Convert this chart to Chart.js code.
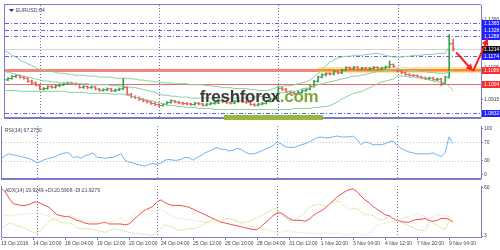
<!DOCTYPE html>
<html><head><meta charset="utf-8">
<script src="https://cdn.jsdelivr.net/npm/chart.js@4.4.1/dist/chart.umd.min.js"></script>
<style>
html,body{margin:0;padding:0;background:#fff}
body{width:500px;height:250px;position:relative;overflow:hidden}
canvas{position:absolute;left:0}
#logo{position:absolute;left:194px;top:87px;width:130px;height:20px;font-family:"Liberation Sans",Arial,sans-serif;font-weight:bold;font-size:17px;line-height:20px;color:#3a3a3a;text-align:center;letter-spacing:-0.3px}
#logo .c{color:#7aa83a}
#logoBar{position:absolute;left:224px;top:115px;width:99px;height:5px;background:#95b83e}
</style></head><body>
<canvas id="cMain" width="500" height="122" style="top:0"></canvas>
<canvas id="cRsi" width="500" height="60" style="top:122px"></canvas>
<canvas id="cAdx" width="500" height="68" style="top:182px"></canvas>
<div id="logoBar"></div>
<div id="logo">freshforex<span class="c">.com</span></div>
<script>
// ---------- data ----------
const xLabels = ['13 Oct 2016','14 Oct 20:00','18 Oct 04:00','19 Oct 12:00','20 Oct 20:00','24 Oct 04:00','25 Oct 12:00','26 Oct 20:00','28 Oct 04:00','31 Oct 12:00','1 Nov 20:00','3 Nov 04:00','4 Nov 12:00','7 Nov 20:00','9 Nov 04:00'];
const xTickBars = [0,8,16,24,32,40,48,56,64,72,80,88,96,104,112];
const weekStartBars = [9,39,69,99];

const open = [1.1024,1.1030,1.1038,1.1050,1.1055,1.1046,1.1040,1.1022,1.1012,1.0998,
1.0975,1.0978,1.0990,1.0986,1.0995,1.1000,1.1006,1.1012,1.1008,1.1004,
1.0985,1.0990,1.0984,1.0988,1.0975,1.0968,1.0971,1.0976,1.0965,1.0970,
1.0976,1.0984,1.0944,1.0930,1.0924,1.0914,1.0905,1.0899,1.0890,1.0882,
1.0878,1.0885,1.0896,1.0905,1.0898,1.0893,1.0889,1.0887,1.0884,1.0891,
1.0887,1.0880,1.0886,1.0891,1.0893,1.0906,1.0900,1.0894,1.0892,1.0901,
1.0906,1.0899,1.0897,1.0884,1.0880,1.0886,1.0891,1.0902,1.0916,1.0926,
1.0980,1.0974,1.0960,1.0954,1.0949,1.0956,1.0966,1.0975,1.0991,1.1021,
1.1046,1.1060,1.1066,1.1065,1.1078,1.1072,1.1088,1.1102,1.1096,1.1104,
1.1092,1.1099,1.1093,1.1098,1.1104,1.1094,1.1100,1.1106,1.1120,1.1090,
1.1082,1.1072,1.1062,1.1057,1.1055,1.1048,1.1042,1.1037,1.1040,1.1031,
1.1034,1.1008,1.1046,1.1245];
const high = [1.1036,1.1044,1.1056,1.1062,1.1060,1.1051,1.1045,1.1028,1.1018,1.1003,
1.0984,1.0995,1.0996,1.1000,1.1006,1.1012,1.1018,1.1017,1.1013,1.1008,
1.0996,1.0994,1.0994,1.0992,1.0980,1.0977,1.0982,1.0980,1.0976,1.0982,
1.1040,1.0990,1.0950,1.0935,1.0929,1.0919,1.0910,1.0904,1.0895,1.0888,
1.0890,1.0901,1.0911,1.0909,1.0903,1.0898,1.0895,1.0892,1.0897,1.0896,
1.0892,1.0892,1.0897,1.0899,1.0912,1.0911,1.0905,1.0900,1.0907,1.0912,
1.0911,1.0945,1.0902,1.0889,1.0892,1.0897,1.0908,1.0922,1.0932,1.0995,
1.0986,1.0979,1.0965,1.0959,1.0962,1.0972,1.0981,1.0997,1.1027,1.1052,
1.1066,1.1072,1.1073,1.1084,1.1083,1.1094,1.1108,1.1107,1.1110,1.1109,
1.1105,1.1104,1.1104,1.1110,1.1109,1.1106,1.1112,1.1142,1.1125,1.1095,
1.1087,1.1077,1.1067,1.1062,1.1060,1.1053,1.1047,1.1046,1.1045,1.1040,
1.1039,1.1052,1.1299,1.1272];
const low = [1.1018,1.1025,1.1034,1.1045,1.1040,1.1034,1.1017,1.1006,1.0994,1.0970,
1.0969,1.0974,1.0980,1.0981,1.0990,1.0996,1.1001,1.1002,1.0999,1.0980,
1.0979,1.0978,1.0979,1.0970,1.0962,1.0963,1.0966,1.0960,1.0960,1.0966,
1.0972,1.0938,1.0924,1.0918,1.0908,1.0899,1.0893,1.0884,1.0878,1.0871,
1.0873,1.0880,1.0891,1.0893,1.0888,1.0883,1.0881,1.0878,1.0879,1.0881,
1.0874,1.0875,1.0881,1.0885,1.0888,1.0895,1.0889,1.0886,1.0887,1.0896,
1.0894,1.0890,1.0878,1.0874,1.0875,1.0881,1.0886,1.0897,1.0911,1.0921,
1.0968,1.0955,1.0948,1.0943,1.0944,1.0951,1.0961,1.0970,1.0986,1.1016,
1.1041,1.1054,1.1058,1.1060,1.1066,1.1067,1.1083,1.1090,1.1091,1.1086,
1.1087,1.1087,1.1088,1.1093,1.1088,1.1089,1.1095,1.1101,1.1104,1.1076,
1.1066,1.1056,1.1051,1.1049,1.1042,1.1036,1.1031,1.1031,1.1025,1.1025,
1.0995,1.1003,1.1040,1.1200];
const close = [1.1030,1.1038,1.1050,1.1055,1.1046,1.1040,1.1022,1.1012,1.1000,1.0975,
1.0978,1.0990,1.0986,1.0995,1.1000,1.1006,1.1012,1.1008,1.1004,1.0985,
1.0990,1.0984,1.0988,1.0975,1.0968,1.0971,1.0976,1.0965,1.0970,1.0976,
1.0984,1.0944,1.0930,1.0924,1.0914,1.0905,1.0899,1.0890,1.0884,1.0878,
1.0885,1.0896,1.0905,1.0898,1.0893,1.0889,1.0887,1.0884,1.0891,1.0887,
1.0880,1.0886,1.0891,1.0893,1.0906,1.0900,1.0894,1.0892,1.0901,1.0906,
1.0899,1.0897,1.0884,1.0880,1.0886,1.0891,1.0902,1.0916,1.0926,1.0980,
1.0974,1.0960,1.0954,1.0949,1.0956,1.0966,1.0975,1.0991,1.1021,1.1046,
1.1060,1.1066,1.1065,1.1078,1.1072,1.1088,1.1102,1.1096,1.1104,1.1092,
1.1099,1.1093,1.1098,1.1104,1.1094,1.1100,1.1106,1.1120,1.1110,1.1082,
1.1072,1.1062,1.1057,1.1055,1.1048,1.1042,1.1037,1.1040,1.1031,1.1034,
1.1008,1.1046,1.1245,1.1214];

const bbUpper = [1.1204,1.1193,1.1176,1.1165,1.1148,1.1136,1.1125,1.1114,1.1103,1.1091,
1.1086,1.1086,1.1080,1.1074,1.1069,1.1069,1.1063,1.1063,1.1057,1.1057,
1.1057,1.1052,1.1052,1.1052,1.1046,1.1046,1.1046,1.1046,1.1040,1.1040,
1.1040,1.1040,1.1035,1.1035,1.1029,1.1029,1.1023,1.1023,1.1018,1.1018,
1.1012,1.1012,1.1012,1.1007,1.1007,1.1007,1.1007,1.1001,1.1001,1.1001,
1.1001,1.0995,1.0995,1.0990,1.0990,1.0984,1.0984,1.0984,1.0978,1.0978,
1.0978,1.0978,1.0973,1.0973,1.0967,1.0967,1.0967,1.0973,1.0978,1.0990,
1.0990,1.0995,1.0995,1.1001,1.1007,1.1012,1.1018,1.1029,1.1046,1.1069,
1.1091,1.1114,1.1136,1.1148,1.1159,1.1165,1.1170,1.1170,1.1176,1.1176,
1.1176,1.1181,1.1181,1.1187,1.1187,1.1181,1.1176,1.1170,1.1165,1.1165,
1.1165,1.1170,1.1170,1.1176,1.1176,1.1176,1.1181,1.1181,1.1181,1.1187,
1.1187,1.1187,1.1227,1.1260];
const bbMiddle = [1.1080,1.1074,1.1069,1.1063,1.1057,1.1052,1.1046,1.1040,1.1035,1.1029,
1.1023,1.1023,1.1018,1.1018,1.1012,1.1012,1.1012,1.1012,1.1007,1.1007,
1.1007,1.1007,1.1001,1.1001,1.1001,1.1001,1.1001,1.0995,1.0995,1.0995,
1.0990,1.0990,1.0984,1.0984,1.0978,1.0973,1.0967,1.0962,1.0956,1.0945,
1.0939,1.0939,1.0933,1.0933,1.0928,1.0928,1.0928,1.0922,1.0922,1.0922,
1.0922,1.0922,1.0922,1.0922,1.0922,1.0922,1.0916,1.0922,1.0922,1.0922,
1.0922,1.0922,1.0922,1.0928,1.0928,1.0933,1.0933,1.0945,1.0945,1.0950,
1.0956,1.0956,1.0962,1.0962,1.0967,1.0978,1.0978,1.0984,1.0990,1.1001,
1.1007,1.1012,1.1018,1.1023,1.1029,1.1035,1.1040,1.1046,1.1052,1.1052,
1.1057,1.1063,1.1069,1.1074,1.1080,1.1080,1.1086,1.1086,1.1091,1.1091,
1.1091,1.1091,1.1086,1.1086,1.1086,1.1080,1.1080,1.1074,1.1074,1.1069,
1.1069,1.1069,1.1080,1.1091];
const bbLower = [1.0967,1.0967,1.0967,1.0967,1.0962,1.0962,1.0962,1.0962,1.0962,1.0962,
1.0962,1.0962,1.0962,1.0962,1.0962,1.0962,1.0956,1.0956,1.0956,1.0956,
1.0956,1.0950,1.0950,1.0950,1.0950,1.0950,1.0950,1.0945,1.0945,1.0945,
1.0945,1.0939,1.0933,1.0928,1.0922,1.0916,1.0911,1.0905,1.0900,1.0894,
1.0888,1.0883,1.0877,1.0877,1.0871,1.0871,1.0866,1.0866,1.0866,1.0860,
1.0860,1.0860,1.0860,1.0854,1.0854,1.0854,1.0854,1.0854,1.0854,1.0854,
1.0854,1.0854,1.0854,1.0854,1.0854,1.0854,1.0854,1.0854,1.0854,1.0854,
1.0854,1.0854,1.0854,1.0860,1.0860,1.0860,1.0860,1.0860,1.0866,1.0866,
1.0871,1.0871,1.0877,1.0888,1.0900,1.0916,1.0928,1.0939,1.0950,1.0956,
1.0962,1.0973,1.0984,1.0995,1.1007,1.1018,1.1023,1.1029,1.1035,1.1052,
1.1052,1.1052,1.1046,1.1046,1.1046,1.1040,1.1035,1.1029,1.1023,1.1018,
1.1018,1.1012,1.0990,1.0967];

const rsi = [35,41,45,43,41,39,37,35,31,25,
29,33,35,37,41,45,47,47,37,39,
35,41,43,47,37,37,35,37,37,41,
45,31,27,25,22,20,18,22,24,22,
25,31,33,31,31,33,37,37,31,37,
41,47,51,55,59,55,55,51,53,57,
55,49,45,45,47,51,55,59,63,71,
67,61,59,59,61,65,67,71,76,80,
82,80,80,82,84,82,82,82,84,76,
65,71,69,65,65,65,67,71,73,65,
57,53,49,47,45,45,45,45,47,43,
39,47,82,67.275];
const adx = [60,55.6,48,41.4,40.3,39.2,39.2,40.3,42.5,43.6,
41.4,39.2,37,32.6,28.2,27.1,26,26,23.8,21.6,
20.5,18.4,17.3,17.3,17.3,18.4,19.4,17.3,17.3,17.3,
17.3,16.2,17.3,21.6,26,30.4,33.7,35.9,38.1,43.6,
45.8,42.5,40.3,39.2,39.2,39.2,38.1,37,34.8,32.6,
30.4,28.2,26,23.8,21.6,19.4,18.4,17.3,16.2,15.1,
14,12.9,11.8,10.7,10.7,14,18.4,22.7,27.1,30.4,
30.4,27.1,23.8,21.6,21.6,21.6,20.5,22.7,27.1,30.4,
32.6,35.9,40.3,44.7,49.1,52.3,55.6,57.8,58.9,55.6,
50.1,45.8,42.5,38.1,34.8,31.5,28.2,27.1,23.8,21.6,
20.5,19.4,19.4,21.6,22.7,22.7,23.8,21.6,20.5,21.6,
23.8,23.8,22.7,19.92];
const plusDI = [11.8,15.1,18.4,17.3,15.1,14,11.8,9.6,7.4,6.3,
9.6,15.1,20.5,22.7,21.6,19.4,18.4,18.4,17.3,12.9,
11.8,11.8,11.8,10.7,9.6,8.5,7.4,9.6,11.8,10.7,
9.6,8.5,7.4,6.3,6.3,5.2,5.2,4.1,4.1,7.4,
11.8,16.2,15.1,12.9,10.7,9.6,10.7,11.8,11.8,12.9,
15.1,18.4,20.5,22.7,21.6,19.4,22.7,23.8,22.7,20.5,
18.4,19.4,20.5,22.7,24.9,27.1,29.3,31.5,34.8,35.9,
29.3,24.9,21.6,21.6,23.8,27.1,30.4,37,39.2,40.3,
40.3,38.1,40.3,42.5,44.7,42.5,38.1,33.7,35.9,35.9,
31.5,28.2,28.2,27.1,23.8,21.6,23.8,26,23.8,21.6,
19.4,17.3,15.1,12.9,10.7,9.6,9.6,19.4,18.4,16.2,
12.9,10.7,20.5,20.59];
const minusDI = [27.1,28.2,27.1,27.1,28.2,28.2,29.3,29.3,29.3,30.4,
29.3,28.2,26,23.8,23.8,23.8,24.9,28.2,26,23.8,
22.7,21.6,20.5,19.4,18.4,18.4,18.4,18.4,20.5,22.7,
24.9,21.6,20.5,27.1,31.5,33.7,34.8,33.7,31.5,33.7,
34.8,31.5,28.2,26,23.8,23.8,22.7,22.7,21.6,20.5,
20.5,19.4,18.4,19.4,20.5,21.6,23.8,23.8,22.7,21.6,
18.4,16.2,15.1,14,12.9,11.8,10.7,9.6,8.5,7.4,
7.4,8.5,9.6,8.5,7.4,7.4,6.3,6.3,6.3,6.3,
6.3,6.3,6.3,6.3,6.3,5.2,4.1,5.2,6.3,6.3,
5.2,4.1,6.3,10.7,15.1,17.3,18.4,19.4,20.5,22.7,
23.8,24.9,26,28.2,29.3,28.2,26,23.8,26,28.2,
28.2,27.1,26,21.93];

const priceTicks = [1.0915,1.1010,1.1105,1.1200,1.1295,1.1390];
const blueLevels = [1.1365,1.1328,1.1288,1.1174,1.0832];
const supportLevel = 1.1086;
const redLevel = 1.1004;
const bidPrice = 1.1214;
const highlightFromBar = 79;
const rsiTicks = [0,30,70,100];
const rsiLevels = [70,30];
const adxTicks = [3,60];
const arrowDown = [[113.75,1.1193],[118,1.1082]];
const arrowUp = [[118,1.1082],[121.75,1.1277]];

// ---------- style ----------
const FONT = '"Liberation Sans", Arial, "DejaVu Sans", sans-serif';
const FRAME = '#7b7bc9';
const TXT = '#3c3c5c';
const BULL = '#3a9c48', BEAR = '#ee5a54';
const BB = '#86d0a0';
const candleColors = close.map((c,i)=> c>=open[i] ? BULL : BEAR);
const base = {responsive:false, animation:false, events:[]};

function framePlugin(topW, botW){
  return {id:'frame'+topW+botW, afterDraw(chart){
    const {ctx, chartArea:a} = chart;
    ctx.save(); ctx.fillStyle = FRAME;
    ctx.fillRect(a.left-1, a.top-topW, 1, a.bottom-a.top+topW+botW);
    if(topW) ctx.fillRect(a.left-1, a.top-topW, a.right-a.left+1, topW);
    if(botW) ctx.fillRect(a.left-1, a.bottom, a.right-a.left+1, botW);
    ctx.restore();
  }};
}
const sepPlugin = {id:'weekSep', beforeDatasetsDraw(chart){
  const {ctx, chartArea:a, scales:{x}} = chart;
  ctx.save(); ctx.strokeStyle = '#6a6ab8'; ctx.lineWidth = 1; ctx.setLineDash([1,2]);
  weekStartBars.forEach(b=>{ const px = Math.round(x.getPixelForValue(b))+0.5;
    ctx.beginPath(); ctx.moveTo(px,a.top); ctx.lineTo(px,a.bottom); ctx.stroke(); });
  ctx.restore();
}};
function titlePlugin(text, dy){
  return {id:'ttl'+dy, afterDraw(chart){
    const {ctx, chartArea:a} = chart;
    ctx.save(); ctx.font = '5px '+FONT; ctx.fillStyle = TXT; ctx.textBaseline='top';
    ctx.fillText(text, a.left+3, a.top+dy); ctx.restore();
  }};
}
function hline(ctx, a, y, color, w, dash, x0){
  ctx.save(); ctx.strokeStyle=color; ctx.lineWidth=w; ctx.setLineDash(dash||[]);
  const yy = (w%2===1) ? Math.round(y)+0.5 : Math.round(y);
  ctx.beginPath(); ctx.moveTo(x0!==undefined?x0:a.left, yy); ctx.lineTo(a.right, yy); ctx.stroke(); ctx.restore();
}
function arrow(ctx, p1, p2){
  const [x1,y1]=p1,[x2,y2]=p2; const ang=Math.atan2(y2-y1,x2-x1); const L=7,W=3.5;
  ctx.beginPath(); ctx.moveTo(x1,y1); ctx.lineTo(x2-L*0.6*Math.cos(ang), y2-L*0.6*Math.sin(ang)); ctx.stroke();
  ctx.beginPath(); ctx.moveTo(x2,y2);
  ctx.lineTo(x2-L*Math.cos(ang)+W*Math.sin(ang), y2-L*Math.sin(ang)-W*Math.cos(ang));
  ctx.lineTo(x2-L*Math.cos(ang)-W*Math.sin(ang), y2-L*Math.sin(ang)+W*Math.cos(ang));
  ctx.closePath(); ctx.fill();
}
function labelBox(ctx, a, y, text, bg){
  ctx.fillStyle = bg; ctx.fillRect(a.right+1, Math.round(y)-3, 18, 7);
  ctx.fillStyle = '#fff'; ctx.font='5px '+FONT; ctx.textBaseline='middle'; ctx.fillText(text, a.right+3, Math.round(y)+0.5);
}

const levelsPlugin = {id:'levels',
  beforeDatasetsDraw(chart){
    const {ctx, chartArea:a, scales:{x,y}} = chart;
    blueLevels.forEach(v=> hline(ctx,a,y.getPixelForValue(v),'#6262ee',1,[4,2,1,2]));
    hline(ctx,a,y.getPixelForValue(bidPrice),'#d4d4d4',1);
    hline(ctx,a,y.getPixelForValue(supportLevel),'#f2857c',3);
    hline(ctx,a,y.getPixelForValue(supportLevel),'rgba(255,205,110,0.55)',6,null,x.getPixelForValue(highlightFromBar));
    hline(ctx,a,y.getPixelForValue(supportLevel),'#ff8c1a',2,null,x.getPixelForValue(highlightFromBar));
    hline(ctx,a,y.getPixelForValue(redLevel),'#f06a6a',1);
  },
  afterDraw(chart){
    const {ctx, chartArea:a, scales:{x,y}} = chart;
    ctx.save();
    blueLevels.forEach(v=> labelBox(ctx,a,y.getPixelForValue(v),v.toFixed(4),'#1f1fff'));
    labelBox(ctx,a,y.getPixelForValue(bidPrice),bidPrice.toFixed(4),'#111111');
    labelBox(ctx,a,y.getPixelForValue(supportLevel),supportLevel.toFixed(4),'#ff2a2a');
    labelBox(ctx,a,y.getPixelForValue(redLevel),redLevel.toFixed(4),'#ff2a2a');
    ctx.strokeStyle='#ff1c1c'; ctx.fillStyle='#ff1c1c'; ctx.lineWidth=2;
    const P = p=>[x.getPixelForValue(p[0]), y.getPixelForValue(p[1])];
    arrow(ctx, P(arrowDown[0]), P(arrowDown[1]));
    arrow(ctx, P(arrowUp[0]), P(arrowUp[1]));
    ctx.fillStyle = '#2a2a9a'; ctx.beginPath(); ctx.moveTo(a.left+4,a.top+4); ctx.lineTo(a.left+9,a.top+4); ctx.lineTo(a.left+6.5,a.top+7); ctx.closePath(); ctx.fill();
    ctx.font='5px '+FONT; ctx.fillStyle=TXT; ctx.textBaseline='top'; ctx.fillText('EURUSD,H4', a.left+11, a.top+3);
    ctx.restore();
  }
};

const xHidden = {type:'linear', display:false, min:0.25, max:120, offset:false};
function yAxis(min,max,ticks,fmt){
  return {position:'right', min, max,
    afterFit(s){ s.width = 19; },
    afterBuildTicks(s){ s.ticks = ticks.map(v=>({value:v})); },
    ticks:{font:{size:5,family:FONT}, color:TXT, padding:1, callback:fmt},
    grid:{drawOnChartArea:false, tickLength:2, color:FRAME}, border:{color:FRAME}};
}
const pts = arr => arr.map((v,i)=>({x:i,y:v}));
const tick = (arr, dx) => ({type:'line', data:arr.map((v,i)=>({x:i+dx,y:v})), showLine:false,
  pointStyle:'line', pointRadius:1, pointBorderWidth:1, pointBorderColor:candleColors, order:2});

// ---------- main price chart (OHLC bars) ----------
new Chart(document.getElementById('cMain'), {
  type:'bar',
  data:{datasets:[
    {type:'line', data:pts(bbUpper), borderColor:BB, borderWidth:1, pointRadius:0, order:1},
    {type:'line', data:pts(bbMiddle), borderColor:BB, borderWidth:1, pointRadius:0, order:1},
    {type:'line', data:pts(bbLower), borderColor:BB, borderWidth:1, pointRadius:0, order:1},
    {type:'bar', data:low.map((l,i)=>({x:i,y:[l,high[i]]})), backgroundColor:candleColors, barThickness:1, grouped:false, minBarLength:2, order:3},
    tick(open,-0.25),
    tick(close,0.25)
  ]},
  options:{...base,
    layout:{padding:{left:2,top:2,right:0,bottom:2}},
    plugins:{legend:{display:false}, tooltip:{enabled:false}},
    scales:{x:xHidden, y:yAxis(1.08094,1.14746,priceTicks,v=>v.toFixed(4))}
  },
  plugins:[sepPlugin, levelsPlugin, framePlugin(1,2)]
});

// ---------- RSI ----------
const rsiLevelPlugin = {id:'rsiLv', beforeDatasetsDraw(chart){
  const {ctx, chartArea:a, scales:{y}} = chart;
  rsiLevels.forEach(v=> hline(ctx,a,y.getPixelForValue(v),'#c4c4c4',1,[1,2]));
}};
new Chart(document.getElementById('cRsi'), {
  type:'line',
  data:{datasets:[{data:pts(rsi), borderColor:'#6fb3f5', borderWidth:1, pointRadius:0}]},
  options:{...base,
    layout:{padding:{left:2,top:0,right:0,bottom:2}},
    plugins:{legend:{display:false}, tooltip:{enabled:false}},
    scales:{x:xHidden, y:yAxis(-7.84,105.9,rsiTicks,v=>String(v))}
  },
  plugins:[sepPlugin, rsiLevelPlugin, titlePlugin('RSI(14) 67.2750',2), framePlugin(0,2)]
});

// ---------- ADX ----------
new Chart(document.getElementById('cAdx'), {
  type:'line',
  data:{datasets:[
    {data:pts(minusDI), borderColor:'#f3d3a6', borderWidth:1, borderDash:[1,1], pointRadius:0},
    {data:pts(plusDI), borderColor:'#b7d66a', borderWidth:1, borderDash:[1,1], pointRadius:0},
    {data:pts(adx), borderColor:'#f2504c', borderWidth:1, pointRadius:0}
  ]},
  options:{...base,
    layout:{padding:{left:2,top:0,right:0,bottom:0}},
    plugins:{legend:{display:false}, tooltip:{enabled:false}},
    scales:{
      x:{type:'linear', min:0.25, max:120, offset:false,
        afterFit(s){ s.height = 13; },
        afterBuildTicks(s){ s.ticks = xTickBars.map(v=>({value:v})); },
        ticks:{font:{size:5,family:FONT}, color:TXT, align:'start', padding:1, maxRotation:0, autoSkip:false,
          callback:v=> xLabels[xTickBars.indexOf(v)]},
        grid:{drawOnChartArea:false, tickLength:3, color:FRAME}, border:{color:FRAME}},
      y:yAxis(1.90,62.19,adxTicks,v=>String(v))
    }
  },
  plugins:[sepPlugin, titlePlugin('ADX(14) 19.9249 +DI:20.5908 -DI:21.9279',2), framePlugin(0,0)]
});
</script>
</body></html>
